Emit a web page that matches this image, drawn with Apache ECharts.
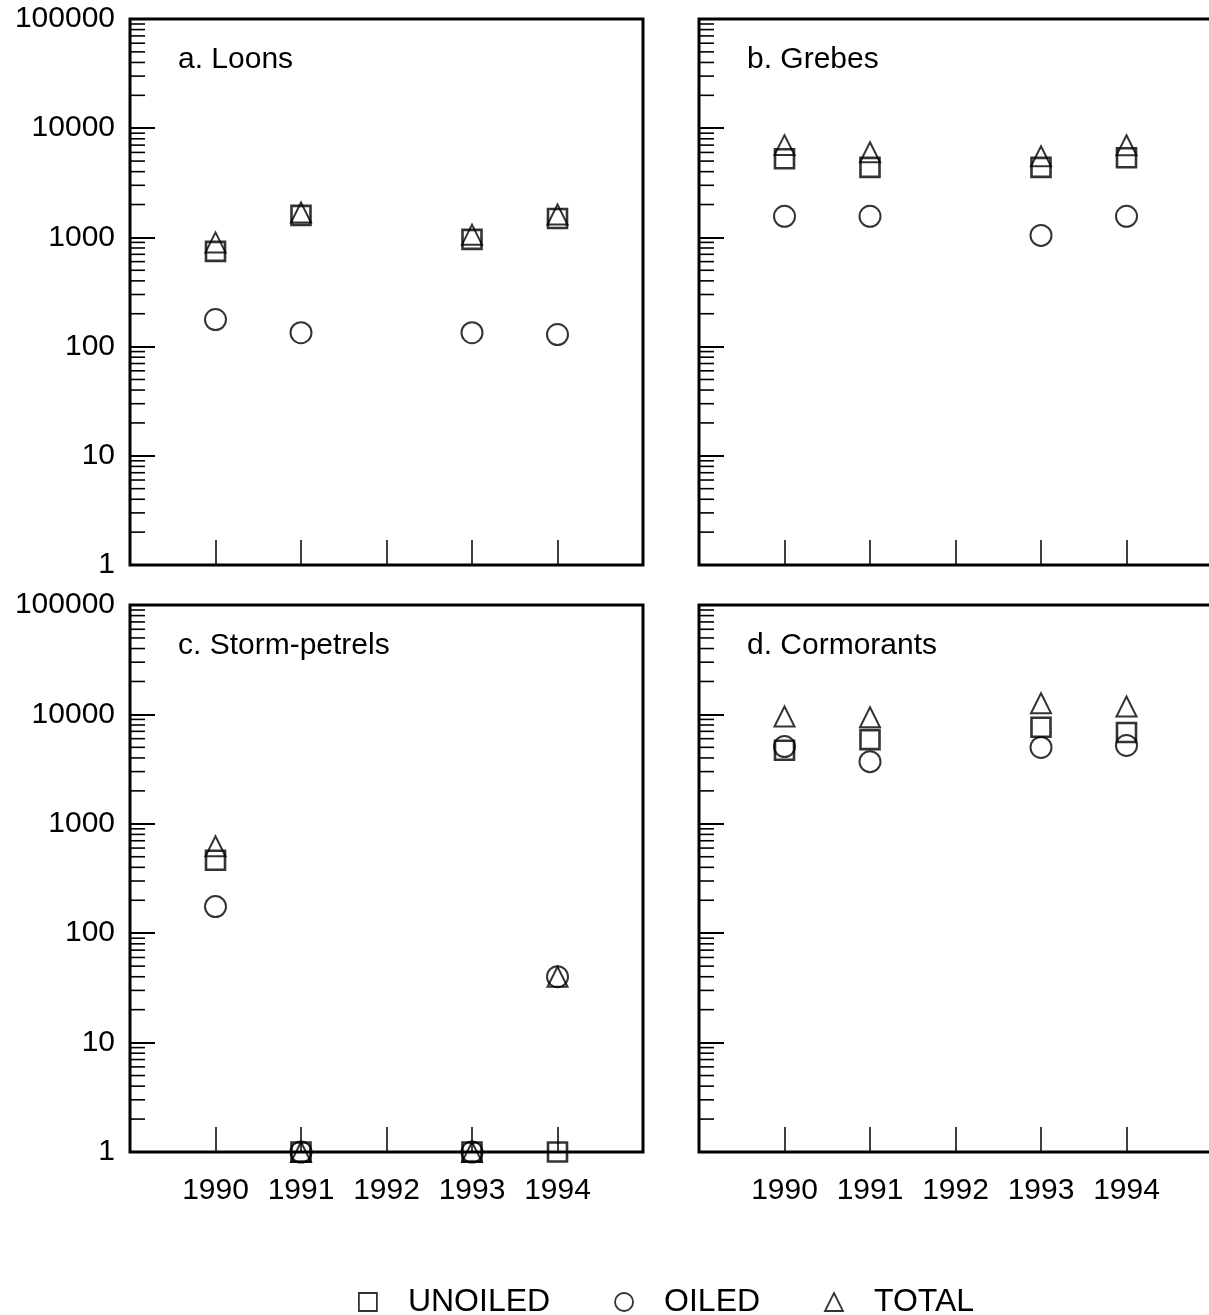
<!DOCTYPE html>
<html>
<head>
<meta charset="utf-8">
<script src="https://cdn.jsdelivr.net/npm/echarts@6/dist/echarts.min.js"></script>
<style>
  html, body { margin: 0; padding: 0; background: #fff; }
  #chart { width: 1209px; height: 1315px; }
</style>
</head>
<body>
<div id="chart"></div>
<script>
// x axis years
const years = [1990, 1991, 1992, 1993, 1994];
// y axis tick labels
const yTickLabels = ["1", "10", "100", "1000", "10000", "100000"];

// a. Loons
const loonsUnoiled = [745, 1590, null, 960, 1490];
const loonsOiled = [177, 134, null, 134, 129];
const loonsTotal = [900, 1690, null, 1060, 1620];
// b. Grebes
const grebesUnoiled = [5250, 4380, null, 4380, 5360];
const grebesOiled = [1560, 1560, null, 1043, 1560];
const grebesTotal = [7000, 6030, null, 5530, 6980];
// c. Storm-petrels (zeros plotted at 1)
const petrelsUnoiled = [464, 1, null, 1, 1];
const petrelsOiled = [175, 1, null, 1, 40];
const petrelsTotal = [624, 1, null, 1, 40];
// d. Cormorants
const cormorantsUnoiled = [4700, 5880, null, 7620, 6830];
const cormorantsOiled = [5080, 3700, null, 4990, 5200];
const cormorantsTotal = [9570, 9420, null, 12640, 11800];

const panels = [
  { title: "a. Loons", u: loonsUnoiled, o: loonsOiled, t: loonsTotal },
  { title: "b. Grebes", u: grebesUnoiled, o: grebesOiled, t: grebesTotal },
  { title: "c. Storm-petrels", u: petrelsUnoiled, o: petrelsOiled, t: petrelsTotal },
  { title: "d. Cormorants", u: cormorantsUnoiled, o: cormorantsOiled, t: cormorantsTotal },
];

// 网格位置
const grids = [
  { left: 130, top: 19, width: 513, height: 546 },
  { left: 699, top: 19, width: 513, height: 546 },
  { left: 130, top: 605, width: 513, height: 547 },
  { left: 699, top: 605, width: 513, height: 547 },
];

// 对数轴次刻度 2..9 x 10^k
const minorTicks = [];
for (let k = 0; k < 5; k++) {
  for (let m = 2; m <= 9; m++) minorTicks.push(m * Math.pow(10, k));
}

const font = "Liberation Sans, Arial, Helvetica, sans-serif";
const hollow = { color: "rgba(0,0,0,0)", borderColor: "#000", borderWidth: 2 };

const chart = echarts.init(document.getElementById("chart"));

const xAxis = grids.map((g, i) => ({
  type: "value",
  gridIndex: i,
  min: 1989,
  max: 1995,
  interval: 1,
  axisLine: { show: false },
  splitLine: { show: false },
  axisTick: { show: true, inside: true, length: 25, lineStyle: { color: "#000", width: 1.5 } },
  axisLabel: {
    show: i >= 2,
    margin: 24,
    color: "#000",
    fontSize: 30,
    fontFamily: font,
    formatter: (v) => (years.indexOf(v) >= 0 ? String(v) : ""),
  },
}));

const yAxis = grids.map((g, i) => ({
  type: "log",
  logBase: 10,
  gridIndex: i,
  min: 1,
  max: 100000,
  axisLine: { show: false },
  splitLine: { show: false },
  axisTick: { show: true, inside: true, length: 25, lineStyle: { color: "#000", width: 2 } },
  axisLabel: {
    show: i % 2 === 0,
    margin: 15,
    color: "#000",
    fontSize: 30,
    fontFamily: font,
    formatter: (v) => {
      const s = String(Math.round(v));
      return yTickLabels.indexOf(s) >= 0 ? s : "";
    },
  },
}));

const series = [];
panels.forEach((p, i) => {
  const pts = (arr) => years.map((y, j) => (arr[j] == null ? null : [y, arr[j]])).filter(Boolean);
  series.push({
    name: "UNOILED", type: "scatter", xAxisIndex: i, yAxisIndex: i, clip: false,
    symbol: "rect", symbolSize: 19, itemStyle: { ...hollow, borderWidth: 2.6 }, data: pts(p.u),
  });
  series.push({
    name: "OILED", type: "scatter", xAxisIndex: i, yAxisIndex: i, clip: false,
    symbol: "circle", symbolSize: 21, itemStyle: hollow, data: pts(p.o),
  });
  series.push({
    name: "TOTAL", type: "scatter", xAxisIndex: i, yAxisIndex: i, clip: false,
    symbol: "triangle", symbolSize: 20, itemStyle: hollow, data: pts(p.t),
  });
  // 次刻度
  series.push({
    type: "custom", xAxisIndex: i, yAxisIndex: i, silent: true, clip: false,
    data: minorTicks.map((v) => [1989, v]),
    renderItem: (params, api) => {
      const c = api.coord([api.value(0), api.value(1)]);
      return {
        type: "line",
        shape: { x1: c[0], y1: c[1], x2: c[0] + 15, y2: c[1] },
        style: { stroke: "#000", lineWidth: 1.6 },
      };
    },
  });
});

const option = {
  backgroundColor: "#fff",
  animation: false,
  grid: grids.map((g) => ({
    ...g, show: true, borderColor: "#000", borderWidth: 3, containLabel: false, outerBoundsMode: "none",
  })),
  xAxis,
  yAxis,
  title: panels.map((p, i) => ({
    text: p.title,
    left: grids[i].left + 48,
    top: grids[i].top + 26,
    padding: 0,
    textStyle: { color: "#000", fontSize: 30, fontWeight: "normal", fontFamily: font },
  })),
  legend: {
    data: ["UNOILED", "OILED", "TOTAL"],
    left: 353,
    top: 1281,
    itemWidth: 18,
    itemHeight: 18,
    itemGap: 64,
    textStyle: { color: "#000", fontSize: 32, fontFamily: font, padding: [0, 0, 0, 26] },
    itemStyle: { color: "rgba(0,0,0,0)", borderColor: "#000", borderWidth: 1.8 },
  },
  series,
};

chart.setOption(option);
</script>
</body>
</html>
